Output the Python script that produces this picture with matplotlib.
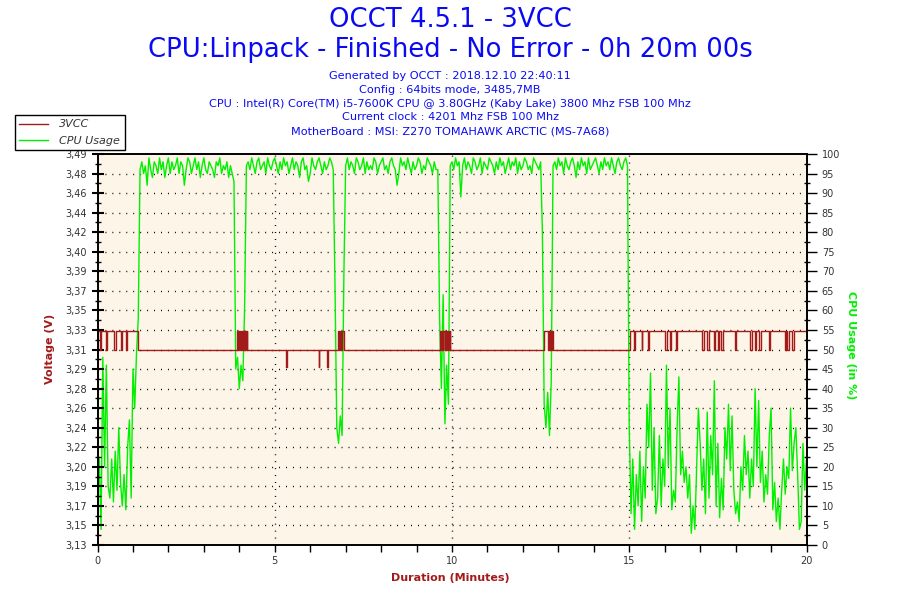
import numpy as np
import matplotlib
matplotlib.use("Agg")
import matplotlib.pyplot as plt
from matplotlib.lines import Line2D
from matplotlib.ticker import FixedLocator

# CPU usage (%), one reading every 3 seconds over 20 minutes
cpu_usage = [
    # idle start
    8, 22, 4, 48, 20, 46, 15, 12, 22, 11, 24, 14, 30, 16, 10, 18, 9, 25, 32, 12, 45, 35, 49, 58, 96,
    # load 1
    98, 95, 97, 92, 99, 96, 94, 98, 97, 95, 99, 96, 98, 94, 97, 99, 95, 98, 96, 97,
    99, 95, 98, 97, 92, 96, 99, 98, 95, 97, 99, 96, 98, 94, 97, 99, 96, 95, 98, 97,
    96, 94, 98, 97, 99, 95, 97, 96, 98, 94, 97, 95, 93,
    45, 48, 40, 46, 42, 61, 97,
    # load 2
    98, 96, 99, 97, 95, 98, 99, 96, 97, 98, 95, 99, 97, 96, 98, 99, 97, 95, 98, 96,
    99, 97, 98, 95, 97, 99, 96, 98, 97, 94, 98, 99, 96, 97, 93, 95, 99, 97, 96, 98,
    99, 97, 95, 98, 96, 97, 99, 98, 96,
    66, 30, 26, 33, 28, 69,
    # load 3
    97, 99, 96, 98, 97, 95, 99, 98, 96, 97, 99, 95, 98, 96, 97, 96, 99, 98, 95, 97,
    98, 99, 96, 97, 95, 98, 99, 97, 96, 92, 95, 99, 97, 98, 96, 99, 97, 95, 98, 96,
    97, 99, 98, 95, 97, 96, 99, 98, 97, 95, 98, 96,
    96, 58, 40, 64, 31, 46, 36, 97,
    # load 4
    98, 96, 99, 97, 98, 89, 97, 99, 96, 98, 97, 95, 99, 98, 96, 97, 99, 95, 98, 97,
    96, 99, 98, 97, 95, 98, 96, 99, 97, 98, 95, 97, 99, 96, 98, 97, 99, 95, 98, 96,
    97, 99, 98, 96, 97, 95, 99, 98, 97, 96, 98,
    80, 36, 30, 39, 28, 42, 97,
    # load 5
    98, 96, 99, 97, 98, 95, 99, 97, 96, 98, 99, 97, 94, 98, 96, 99, 97, 98, 95, 99,
    96, 97, 98, 99, 97, 95, 98, 96, 99, 97, 98, 96, 99, 97, 95, 98, 99, 97, 96, 98, 99,
    97,
    # idle end
    30, 8, 22, 4, 18, 10, 24, 6, 20, 12, 36, 25, 44, 14, 30, 8, 12, 28, 10, 22,
    15, 46, 20, 35, 9, 14, 11, 30, 43, 18, 24, 16, 20, 12, 18, 3, 10, 4, 20, 35,
    26, 14, 22, 8, 34, 12, 28, 18, 42, 10, 26, 7, 17, 9, 30, 22, 36, 19, 33, 14,
    8, 11, 6, 20, 14, 28, 18, 24, 12, 22, 15, 40, 20, 37, 16, 24, 11, 18, 13, 28,
    35, 9, 16, 6, 12, 4, 14, 22, 13, 20, 17, 35, 19, 26, 30, 18, 4, 6, 26, 14, 22,
]

# 3VCC voltage, as (minute, new value) change points
volt_times = [
    0.00, 0.06, 0.10, 0.23, 0.26, 0.47, 0.53, 0.66, 0.70, 0.80, 0.84, 1.15,
    3.93, 3.96, 3.98, 4.02, 4.04, 4.06, 4.08, 4.10, 4.11, 4.14, 4.15, 4.19, 4.21, 4.23,
    5.32, 5.35, 6.24, 6.26, 6.47, 6.51,
    6.79, 6.82, 6.84, 6.88, 6.89, 6.96,
    9.67, 9.70, 9.72, 9.75, 9.76, 9.79, 9.80, 9.84, 9.85, 9.88, 9.89, 9.92, 9.93, 9.95,
    12.60, 12.72, 12.75, 12.77, 12.79, 12.82, 12.83, 12.86,
    15.02, 15.13, 15.16, 15.35, 15.37, 15.54, 15.56, 16.02, 16.07, 16.15, 16.19,
    16.32, 16.35, 17.06, 17.10, 17.20, 17.25, 17.38, 17.43, 17.50, 17.54, 17.59, 17.65,
    17.97, 18.00, 18.42, 18.46, 18.54, 18.57, 18.65, 18.71, 18.93, 18.98,
    19.38, 19.42, 19.45, 19.50, 19.59, 19.64, 20.00,
]
volt_values = [
    3.332, 3.315, 3.332, 3.315, 3.332, 3.315, 3.332, 3.315, 3.332, 3.315, 3.332, 3.315,
    3.332, 3.315, 3.332, 3.315, 3.332, 3.315, 3.332, 3.315, 3.332, 3.315, 3.332, 3.315, 3.332, 3.315,
    3.299, 3.315, 3.299, 3.315, 3.299, 3.315,
    3.332, 3.315, 3.332, 3.315, 3.332, 3.315,
    3.332, 3.315, 3.332, 3.315, 3.332, 3.315, 3.332, 3.315, 3.332, 3.315, 3.332, 3.315, 3.332, 3.315,
    3.332, 3.315, 3.332, 3.315, 3.332, 3.315, 3.332, 3.315,
    3.332, 3.315, 3.332, 3.315, 3.332, 3.315, 3.332, 3.315, 3.332, 3.315, 3.332,
    3.315, 3.332, 3.315, 3.332, 3.315, 3.332, 3.315, 3.332, 3.315, 3.332, 3.315, 3.332,
    3.315, 3.332, 3.315, 3.332, 3.315, 3.332, 3.315, 3.332, 3.315, 3.332,
    3.315, 3.332, 3.315, 3.332, 3.315, 3.332, 3.332,
]

volt_labels = ["3,13", "3,15", "3,17", "3,19", "3,20", "3,22", "3,24", "3,26", "3,28", "3,29",
               "3,31", "3,33", "3,35", "3,37", "3,39", "3,40", "3,42", "3,44", "3,46", "3,48", "3,49"]
cpu_ticks = list(range(0, 101, 5))
minute_ticks = [0, 5, 10, 15, 20]

title_lines = ["OCCT 4.5.1 - 3VCC", "CPU:Linpack - Finished - No Error - 0h 20m 00s"]
info_lines = [
    "Generated by OCCT : 2018.12.10 22:40:11",
    "Config : 64bits mode, 3485,7MB",
    "CPU : Intel(R) Core(TM) i5-7600K CPU @ 3.80GHz (Kaby Lake) 3800 Mhz FSB 100 Mhz",
    "Current clock : 4201 Mhz FSB 100 Mhz",
    "MotherBoard : MSI: Z270 TOMAHAWK ARCTIC (MS-7A68)",
]

V_MIN, V_MAX = 3.1317, 3.4983
red = "#A31A1A"
green = "#00F000"
blue = "#0A0AF2"

fig = plt.figure(figsize=(9, 6), dpi=100)
ax2 = fig.add_axes([97.5 / 900, 1 - 545 / 600, 709 / 900, 391 / 600])
ax = ax2.twinx()
# voltage axis on the left, cpu axis on the right
ax.yaxis.tick_left()
ax2.yaxis.tick_right()
ax.set_zorder(ax2.get_zorder() + 1)
ax.patch.set_visible(False)
ax2.set_facecolor("#FDF6E8")

t_cpu = np.linspace(0, 20, len(cpu_usage))
ax2.plot(t_cpu, cpu_usage, color=green, lw=1.0)
ax.plot(volt_times, volt_values, color=red, lw=1.0, drawstyle="steps-post")

ax2.set_xlim(0, 20)
ax2.set_ylim(0, 100)
ax.set_ylim(V_MIN, V_MAX)

# ticks
ax2.set_xticks(minute_ticks)
ax2.xaxis.set_minor_locator(FixedLocator(range(0, 21)))
ax2.tick_params(axis="x", which="both", direction="out", length=5, width=1,
                labelsize=7, labelcolor="#333333", pad=3)
ax2.set_yticks(cpu_ticks)
ax2.yaxis.set_minor_locator(FixedLocator(np.arange(2.5, 100, 5)))
ax2.tick_params(axis="y", which="major", direction="out", length=7, width=1,
                labelsize=7, labelcolor="#333333", pad=4)
ax2.tick_params(axis="y", which="minor", direction="inout", length=5, width=1)

v_ticks = np.linspace(V_MIN, V_MAX, len(volt_labels))
ax.set_yticks(v_ticks)
ax.set_yticklabels(volt_labels)
ax.yaxis.set_minor_locator(FixedLocator((v_ticks[:-1] + v_ticks[1:]) / 2))
ax.tick_params(axis="y", which="major", direction="inout", length=9, width=1.5,
               labelsize=7, labelcolor="#333333", pad=3)
ax.tick_params(axis="y", which="minor", direction="inout", length=5, width=1)

# dotted grid
for c in cpu_ticks[1:-1]:
    ax2.axhline(c, color="black", lw=1.0, ls=(0, (0.7, 4.3)), zorder=1)
for m in minute_ticks[1:-1]:
    ax2.axvline(m, color="black", lw=1.0, ls=(0, (0.7, 4.3)), zorder=1)

for a in (ax, ax2):
    for s in a.spines.values():
        s.set_color("black")
        s.set_linewidth(1.2)

# titles and texts
fig.text(0.5, 1 - 20 / 600, title_lines[0], ha="center", va="center", fontsize=18.6, color=blue)
fig.text(0.5, 1 - 50 / 600, title_lines[1], ha="center", va="center", fontsize=18.6, color=blue)
for k, line in enumerate(info_lines):
    fig.text(0.5, 1 - (76 + 13.8 * k) / 600, line, ha="center", va="center", fontsize=8.1, color=blue)

fig.text(50 / 900, 1 - 349 / 600, "Voltage (V)", rotation=90, ha="center", va="center",
         fontsize=8, fontweight="bold", color=red)
fig.text(851 / 900, 1 - 345 / 600, "CPU Usage (in %)", rotation=270, ha="center", va="center",
         fontsize=8, fontweight="bold", color=green)
fig.text(0.5, 1 - 578 / 600, "Duration (Minutes)", ha="center", va="center",
         fontsize=8, fontweight="bold", color=red)

handles = [Line2D([], [], color=red, lw=1), Line2D([], [], color=green, lw=1)]
leg = fig.legend(handles, ["3VCC", "CPU Usage"], loc="upper left",
                 bbox_to_anchor=(15 / 900, 1 - 115 / 600), borderaxespad=0,
                 fancybox=False, edgecolor="black", framealpha=1,
                 prop={"style": "italic", "size": 8}, handlelength=2.6,
                 borderpad=0.4, labelspacing=0.55, handletextpad=1.0)
leg.get_frame().set_linewidth(1.0)
for txt in leg.get_texts():
    txt.set_color("#333333")

fig.savefig("out.png", dpi=100)
